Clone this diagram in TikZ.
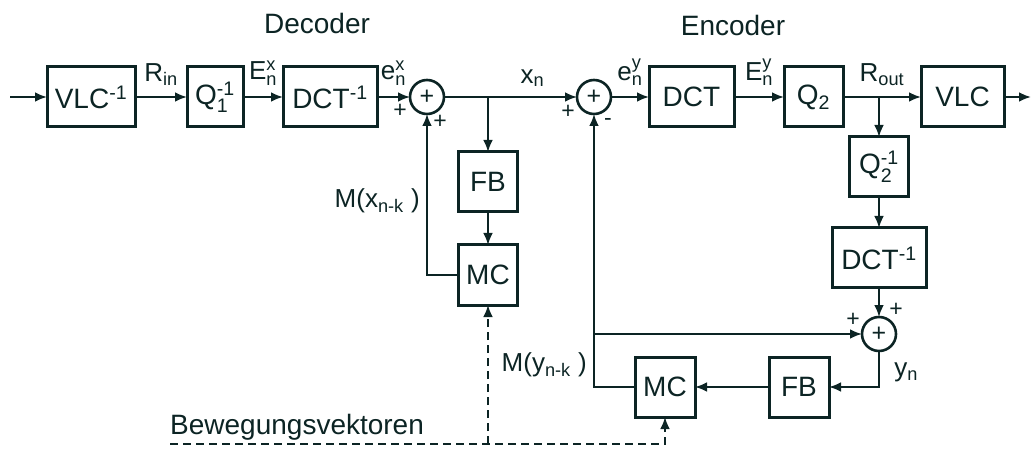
\documentclass[tikz,border=0pt]{standalone}
\usepackage{amsmath}
\usepackage{fontspec}
\setmainfont{Liberation Sans}
\usetikzlibrary{arrows.meta,positioning}

\definecolor{ink}{RGB}{12,36,36}

\begin{document}
\begin{tikzpicture}[
    x=1pt, y=1pt,
    box/.style={draw=ink, line width=3pt, outer sep=0pt, minimum width=59pt,
                minimum height=60pt, font=\fontsize{28}{30}\selectfont,
                text=ink, inner sep=0pt},
    sum/.style={draw=ink, circle, line width=2.6pt, outer sep=0pt,
                minimum size=34pt, inner sep=0pt,
                font=\fontsize{25}{26}\selectfont, text=ink},
    arr/.style={-{Latex[length=12pt,width=10pt]}, line width=2.6pt, draw=ink},
    vecarr/.style={-{Latex[length=12pt,width=10pt]}, line width=2.6pt,
                   draw=ink, dash pattern=on 8pt off 5pt},
    lbl/.style={font=\fontsize{26}{28}\selectfont, text=ink, inner sep=0pt},
    title/.style={font=\fontsize{28}{30}\selectfont, text=ink},
    sign/.style={font=\fontsize{23}{24}\selectfont, text=ink, inner sep=0pt}
]
\useasboundingbox (0,0) rectangle (1034,-449);

% ── Decoder (top left) ──
\node[box, minimum width=88pt] (vlcinv) at (91,-97) {VLC$^{\text{-1}}$};
\node[box, minimum width=56pt, right=52pt of vlcinv] (qinv1) {Q$^{\text{-1}}_{\text{1}}$};
\node[box, minimum width=94pt, right=40pt of qinv1] (dctinv) {DCT$^{\text{-1}}$};
\node[sum, right=33pt of dctinv] (sumdec) {+};
\coordinate[right=44pt of sumdec] (br1);
\coordinate[left=37pt of vlcinv] (in);

\node[box, below=55pt of br1] (fbdec) {FB};
\node[box, below=33pt of fbdec] (mcdec) {MC};

\node[title] (dectitle) at (317,-23) {Decoder};

% ── Encoder (top right) ──
\node[sum, right=133pt of sumdec] (sumenc) {+};
\node[box, minimum width=85pt, right=38pt of sumenc] (dct) {DCT};
\node[box, right=50pt of dct] (q2) {Q$_{\text{2}}$};
\coordinate[right=36pt of q2] (br2);
\node[box, minimum width=83pt, right=78pt of q2] (vlc) {VLC};
\coordinate[right=27pt of vlc] (out);

\node[box, below=40pt of br2] (qinv2) {Q$^{\text{-1}}_{\text{2}}$};
\node[box, minimum width=94pt, below=31pt of qinv2] (dctinv2) {DCT$^{\text{-1}}$};
\node[sum, below=29pt of dctinv2] (sumenc2) {+};
\node[box, minimum width=60pt] (fbenc) at (799,-387) {FB};
\node[box, minimum width=60pt, left=74pt of fbenc] (mcenc) {MC};

\node[title] (enctitle) at (733,-25) {Encoder};

% ── main line ──
\draw[arr] (in) -- (vlcinv);
\draw[arr] (vlcinv) -- node[lbl, above=10pt] {R$_{\text{in}}$} (qinv1);
\draw[arr] (qinv1) -- node[lbl, above=10pt] {E$^{\text{x}}_{\text{n}}$} (dctinv);
\draw[arr] (dctinv) -- node[lbl, above=10pt] {e$^{\text{x}}_{\text{n}}$} (sumdec);
\draw[arr] (sumdec) -- (sumenc);
\path (br1) -- node[lbl, above=10pt] {x$_{\text{n}}$} (sumenc.west);
\draw[arr] (sumenc) -- node[lbl, above=10pt] {e$^{\text{y}}_{\text{n}}$} (dct);
\draw[arr] (dct) -- node[lbl, above=10pt] {E$^{\text{y}}_{\text{n}}$} (q2);
\draw[arr] (q2) -- node[lbl, above=10pt] {R$_{\text{out}}$} (vlc);
\draw[arr] (vlc) -- (out);

% ── decoder loop ──
\draw[arr] (br1) -- (fbdec);
\draw[arr] (fbdec) -- (mcdec);
\draw[arr] (mcdec.west) -| node[lbl, left=6pt, pos=0.73] {M(x$_{\text{n-k}}$ )} (sumdec.south);

% ── encoder loop ──
\draw[arr] (br2) -- (qinv2);
\draw[arr] (qinv2) -- (dctinv2);
\draw[arr] (dctinv2) -- (sumenc2);
\draw[arr] (sumenc2) |- node[lbl, right=14pt, pos=0.3] {y$_{\text{n}}$} (fbenc);
\draw[arr] (fbenc) -- (mcenc);
\draw[arr] (mcenc.west) -| node[lbl, left=6pt, pos=0.54] {M(y$_{\text{n-k}}$ )} (sumenc.south);
\coordinate (br3) at (sumenc.south |- sumenc2.west);
\draw[arr] (br3) -- (sumenc2);

% ── signs ──
\node[sign] (sd1) at (400,-111) {+};
\node[sign] (sd2) at (440,-122) {+};
\node[sign] (se1) at (568,-112) {+};
\node[sign] (se2) at (608,-122) {-};
\node[sign] (se3) at (853,-320) {+};
\node[sign] (se4) at (896,-310) {+};

% ── motion vectors ──
\coordinate (vstart) at (170,-444);
\node[lbl, font=\fontsize{28}{30}\selectfont, above right=3pt and 0pt of vstart] (bewvek) {Bewegungsvektoren};
\draw[vecarr] (vstart) -| (mcenc.south);
\draw[vecarr] (mcdec.south |- vstart) -- (mcdec.south);

\end{tikzpicture}
\end{document}
